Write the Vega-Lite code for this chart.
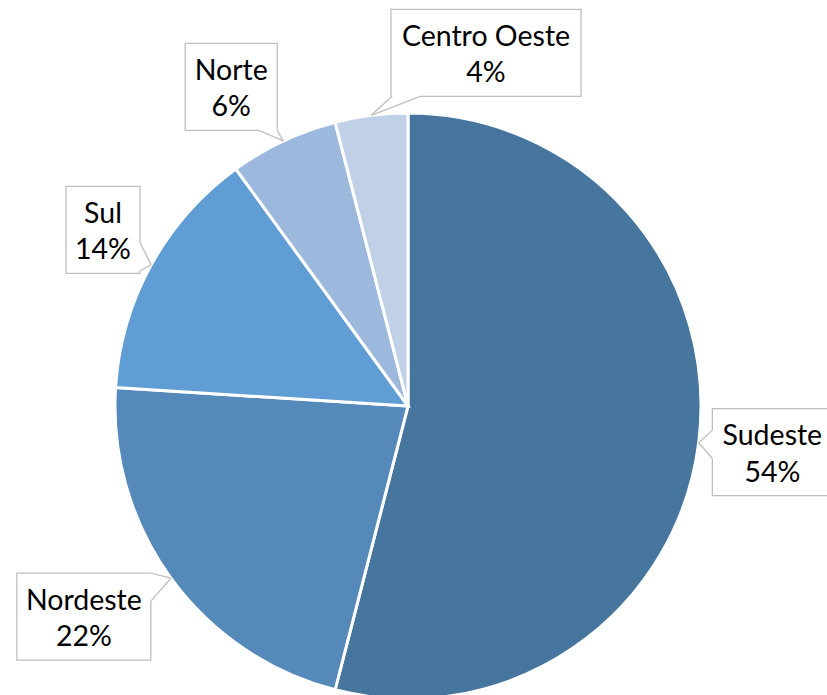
{
  "$schema": "https://vega.github.io/schema/vega-lite/v6.json",
  "width": 827,
  "height": 695,
  "padding": 0,
  "autosize": {"type": "none"},
  "background": "white",
  "config": {"view": {"stroke": null}},
  "data": {
    "values": [
      {"region": "Sudeste", "pct": 54},
      {"region": "Nordeste", "pct": 22},
      {"region": "Sul", "pct": 14},
      {"region": "Norte", "pct": 6},
      {"region": "Centro Oeste", "pct": 4}
    ]
  },
  "transform": [
    {"window": [{"op": "row_number", "as": "ord"}]},
    {"stack": "pct", "groupby": [], "sort": [{"field": "ord", "order": "ascending"}], "as": ["v0", "v1"]},
    {"calculate": "PI*(datum.v0+datum.v1)/100", "as": "mid"},
    {"calculate": "datum.mid + (datum.region === 'Centro Oeste' ? 0.343 : (datum.region === 'Norte' ? -0.066 : (datum.region === 'Nordeste' ? 0.052 : (datum.region === 'Sul' ? 0.021 : 0))))", "as": "a"},
    {"calculate": "(max(14*length(datum.region),52)+22)/586", "as": "hw"},
    {"calculate": "43.5/293", "as": "hh"},
    {"calculate": "min(datum.hw/abs(sin(datum.a)), datum.hh/abs(cos(datum.a)))", "as": "ext"},
    {"calculate": "1.047 + 0.037*pow(max(cos(datum.a),0),2) + datum.ext", "as": "rl"},
    {"calculate": "datum.rl*sin(datum.a)", "as": "lx"},
    {"calculate": "datum.rl*cos(datum.a)", "as": "ly"},
    {"calculate": "datum.lx-datum.hw", "as": "bx1"},
    {"calculate": "datum.lx+datum.hw", "as": "bx2"},
    {"calculate": "datum.ly-datum.hh", "as": "by1"},
    {"calculate": "datum.ly+datum.hh", "as": "by2"},
    {"calculate": "sin(datum.mid)", "as": "tx"},
    {"calculate": "cos(datum.mid)", "as": "ty"},
    {"calculate": "datum.tx-datum.lx", "as": "dxv"},
    {"calculate": "datum.ty-datum.ly", "as": "dyv"},
    {"calculate": "datum.hw/abs(datum.dxv) < datum.hh/abs(datum.dyv)", "as": "vert"},
    {"calculate": "min(datum.hw/abs(datum.dxv), datum.hh/abs(datum.dyv))", "as": "t"},
    {"calculate": "datum.lx+datum.t*datum.dxv", "as": "ex"},
    {"calculate": "datum.ly+datum.t*datum.dyv", "as": "ey"},
    {"calculate": "datum.vert ? datum.ex : clamp(datum.ex-0.048, datum.bx1, datum.bx2)", "as": "ax1"},
    {"calculate": "datum.vert ? clamp(datum.ey-0.048, datum.by1, datum.by2) : datum.ey", "as": "ay1"},
    {"calculate": "datum.vert ? datum.ex : clamp(datum.ex+0.048, datum.bx1, datum.bx2)", "as": "ax2"},
    {"calculate": "datum.vert ? clamp(datum.ey+0.048, datum.by1, datum.by2) : datum.ey", "as": "ay2"},
    {"calculate": "[datum.region, datum.pct + '%']", "as": "label"}
  ],
  "layer": [
    {
      "mark": {"type": "arc", "outerRadius": 293, "stroke": "white", "strokeWidth": 3},
      "encoding": {
        "x": {"datum": 0, "type": "quantitative", "scale": {"domain": [-1.39249, 1.43003], "nice": false, "zero": false}, "axis": null},
        "y": {"datum": 0, "type": "quantitative", "scale": {"domain": [-0.98635, 1.38567], "nice": false, "zero": false}, "axis": null},
        "theta": {"field": "v0", "type": "quantitative", "scale": {"domain": [0, 100]}},
        "theta2": {"field": "v1"},
        "color": {
          "field": "region",
          "type": "nominal",
          "scale": {
            "domain": ["Sudeste", "Nordeste", "Sul", "Norte", "Centro Oeste"],
            "range": ["#46759E", "#5589BA", "#5F9DD4", "#9CB9DD", "#C0D1E7"]
          },
          "legend": null
        }
      }
    },
    {
      "mark": {"type": "rect", "fill": "white", "stroke": "#BFBFBF", "strokeWidth": 1.3},
      "encoding": {
        "x": {"field": "bx1", "type": "quantitative", "axis": null},
        "x2": {"field": "bx2"},
        "y": {"field": "by1", "type": "quantitative", "axis": null},
        "y2": {"field": "by2"}
      }
    },
    {
      "mark": {"type": "rule", "stroke": "white", "strokeWidth": 3},
      "encoding": {
        "x": {"field": "ax1", "type": "quantitative"},
        "y": {"field": "ay1", "type": "quantitative"},
        "x2": {"field": "ax2"},
        "y2": {"field": "ay2"}
      }
    },
    {
      "mark": {"type": "rule", "stroke": "#BFBFBF", "strokeWidth": 1.3},
      "encoding": {
        "x": {"field": "ax1", "type": "quantitative"},
        "y": {"field": "ay1", "type": "quantitative"},
        "x2": {"field": "tx"},
        "y2": {"field": "ty"}
      }
    },
    {
      "mark": {"type": "rule", "stroke": "#BFBFBF", "strokeWidth": 1.3},
      "encoding": {
        "x": {"field": "ax2", "type": "quantitative"},
        "y": {"field": "ay2", "type": "quantitative"},
        "x2": {"field": "tx"},
        "y2": {"field": "ty"}
      }
    },
    {
      "mark": {"type": "text", "font": "Lato", "fontSize": 28.5, "lineHeight": 36.5, "color": "#000000", "align": "center", "baseline": "middle", "dy": -16},
      "encoding": {
        "x": {"field": "lx", "type": "quantitative"},
        "y": {"field": "ly", "type": "quantitative"},
        "text": {"field": "label"}
      }
    }
  ]
}
